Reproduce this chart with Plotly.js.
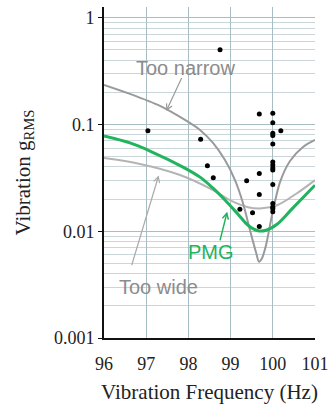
<!DOCTYPE html>
<html>
<head>
<meta charset="utf-8">
<script src="https://cdn.plot.ly/plotly-3.0.1.min.js"></script>
<style>html,body{margin:0;padding:0;background:#fff;}#chart{width:334px;height:404px;}</style>
</head>
<body>
<div id="chart"></div>
<script>
// Data
const narrowFreq = [96.0, 96.616, 97.327, 97.919, 98.275, 98.583, 98.867, 99.104, 99.294, 99.46, 99.602, 99.673, 99.744, 99.839, 99.981, 100.171, 100.408, 100.716, 101.0];
const narrowVib  = [0.235, 0.1934, 0.1492, 0.1102, 0.0888, 0.0671, 0.0464, 0.0301, 0.0183, 0.01022, 0.00635, 0.00517, 0.00558, 0.00739, 0.01413, 0.02884, 0.04544, 0.06146, 0.07153];

const pmgFreq = [96.0, 96.616, 97.09, 97.872, 98.275, 98.583, 98.867, 99.175, 99.412, 99.649, 99.839, 100.10, 100.455, 101.0];
const pmgVib  = [0.078, 0.0671, 0.0564, 0.0399, 0.0321, 0.0253, 0.0196, 0.01445, 0.01138, 0.01011, 0.01021, 0.01163, 0.0162, 0.027];

const wideFreq = [96.0, 96.853, 97.801, 98.583, 99.033, 99.412, 99.744, 100.10, 100.573, 101.0];
const wideVib  = [0.0484, 0.0426, 0.0336, 0.0243, 0.0191, 0.0168, 0.0164, 0.0175, 0.0227, 0.0301];

const dotFreq = [98.75, 97.04, 98.29, 99.68, 100.0, 100.0, 100.0, 100.0, 100.19, 100.0, 98.45, 98.59, 99.68, 99.38,
                 100.0, 100.0, 100.0, 100.0, 100.0, 99.68, 99.22, 99.52, 100.0, 100.0, 100.0, 100.0, 99.68];
const dotVib  = [0.50, 0.0875, 0.0725, 0.1255, 0.127, 0.104, 0.0827, 0.079, 0.0875, 0.0656, 0.041, 0.0316, 0.0348, 0.0297,
                 0.0445, 0.0417, 0.039, 0.0374, 0.0274, 0.0221, 0.0161, 0.0149, 0.0182, 0.0169, 0.0163, 0.0152, 0.0111];

const yTickVals = [0.001, 0.01, 0.1, 1];
const yTickText = ['0.001', '0.01', '0.1', '1'];
const xTickVals = [96, 97, 98, 99, 100, 101];
const xTickText = ['96', '97', '98', '99', '100', '101'];

// Annotation labels and their arrows (tail / head as [frequency, value])
const labelText = ['Too narrow', 'Too wide', 'PMG'];
const labelFreq = [97.94, 97.30, 98.54];
const labelVib  = [0.339, 0.00298, 0.00635];
const arrowTail = [[97.84, 0.272], [96.656, 0.0048], [98.75, 0.0082]];
const arrowHead = [[97.49, 0.137], [97.287, 0.0324], [98.91, 0.0147]];

const serif = 'Liberation Serif, Times New Roman, serif';
const sans = 'Liberation Sans, Arial, Helvetica, sans-serif';

const X0 = 96, X1 = 101, Y0 = -3, Y1 = 0.1;
const W = 211, H = 331;
function toPaper(f, v) {
  return [(f - X0) / (X1 - X0), (Math.log10(v) - Y0) / (Y1 - Y0)];
}
function arrowShapes(tail, head, color, width) {
  const t = toPaper(tail[0], tail[1]), h = toPaper(head[0], head[1]);
  const tx = t[0] * W, ty = t[1] * H, hx = h[0] * W, hy = h[1] * H;
  const dx = tx - hx, dy = ty - hy, len = Math.hypot(dx, dy);
  const bx = dx / len, by = dy / len;
  const a = 28 * Math.PI / 180, L = 6.5;
  const c = Math.cos(a), s = Math.sin(a);
  const p1 = [hx + L * (bx * c - by * s), hy + L * (bx * s + by * c)];
  const p2 = [hx + L * (bx * c + by * s), hy + L * (-bx * s + by * c)];
  const line = {color: color, width: width};
  return [
    {type: 'line', xref: 'paper', yref: 'paper', x0: t[0], y0: t[1], x1: h[0], y1: h[1], line: line},
    {type: 'path', xref: 'paper', yref: 'paper',
     path: `M${p1[0] / W},${p1[1] / H} L${h[0]},${h[1]} L${p2[0] / W},${p2[1] / H}`, line: line}
  ];
}

const traces = [
  {x: wideFreq, y: wideVib, mode: 'lines', line: {color: '#b4b4b4', width: 2, shape: 'spline'}, hoverinfo: 'skip'},
  {x: narrowFreq, y: narrowVib, mode: 'lines', line: {color: '#9a9a9a', width: 2, shape: 'spline', smoothing: 0.8}, hoverinfo: 'skip'},
  {x: pmgFreq, y: pmgVib, mode: 'lines', line: {color: '#22b35e', width: 3, shape: 'spline'}, hoverinfo: 'skip'},
  {x: dotFreq, y: dotVib, mode: 'markers', marker: {color: '#000', size: 5}, hoverinfo: 'skip'}
];

const labelColors = ['#8c8c8c', '#8c8c8c', '#1fb35c'];
const arrowColors = ['#9a9a9a', '#aaaaaa', '#1fb35c'];
const arrowWidths = [1.2, 1.2, 1.5];

const annotations = labelText.map((t, i) => ({
  x: labelFreq[i], y: Math.log10(labelVib[i]), xref: 'x', yref: 'y', text: t, showarrow: false,
  font: {family: sans, size: 20, color: labelColors[i]}
}));
let shapes = [];
arrowTail.forEach((tl, i) => { shapes = shapes.concat(arrowShapes(tl, arrowHead[i], arrowColors[i], arrowWidths[i])); });

const layout = {
  width: 334, height: 404,
  margin: {l: 104, r: 19, t: 7, b: 66},
  paper_bgcolor: '#fff', plot_bgcolor: '#fff',
  showlegend: false,
  xaxis: {
    range: [X0, X1], tickvals: xTickVals, ticktext: xTickText,
    showgrid: true, gridcolor: '#a9bdc5', gridwidth: 1, zeroline: false,
    showline: true, linecolor: '#111', linewidth: 2,
    ticks: '', ticklabelstandoff: 8, tickfont: {family: serif, size: 18, color: '#222'},
    title: {text: 'Vibration Frequency (Hz)', font: {family: serif, size: 21, color: '#222'}, standoff: 14}
  },
  yaxis: {
    type: 'log', range: [Y0, Y1], tickvals: yTickVals, ticktext: yTickText,
    showgrid: true, gridcolor: '#a9bdc5', gridwidth: 1, zeroline: false,
    minor: {dtick: 'D1', showgrid: true, gridcolor: '#c9d6da', gridwidth: 1, ticks: ''},
    showline: true, linecolor: '#111', linewidth: 2,
    ticks: 'outside', ticklen: 4, tickcolor: '#111',
    tickfont: {family: serif, size: 18, color: '#222'},
    title: {text: 'Vibration g<sub>RMS</sub>', font: {family: serif, size: 21, color: '#222'}, standoff: 18}
  },
  annotations: annotations,
  shapes: shapes
};

Plotly.newPlot('chart', traces, layout, {staticPlot: true, displayModeBar: false});
</script>
</body>
</html>
